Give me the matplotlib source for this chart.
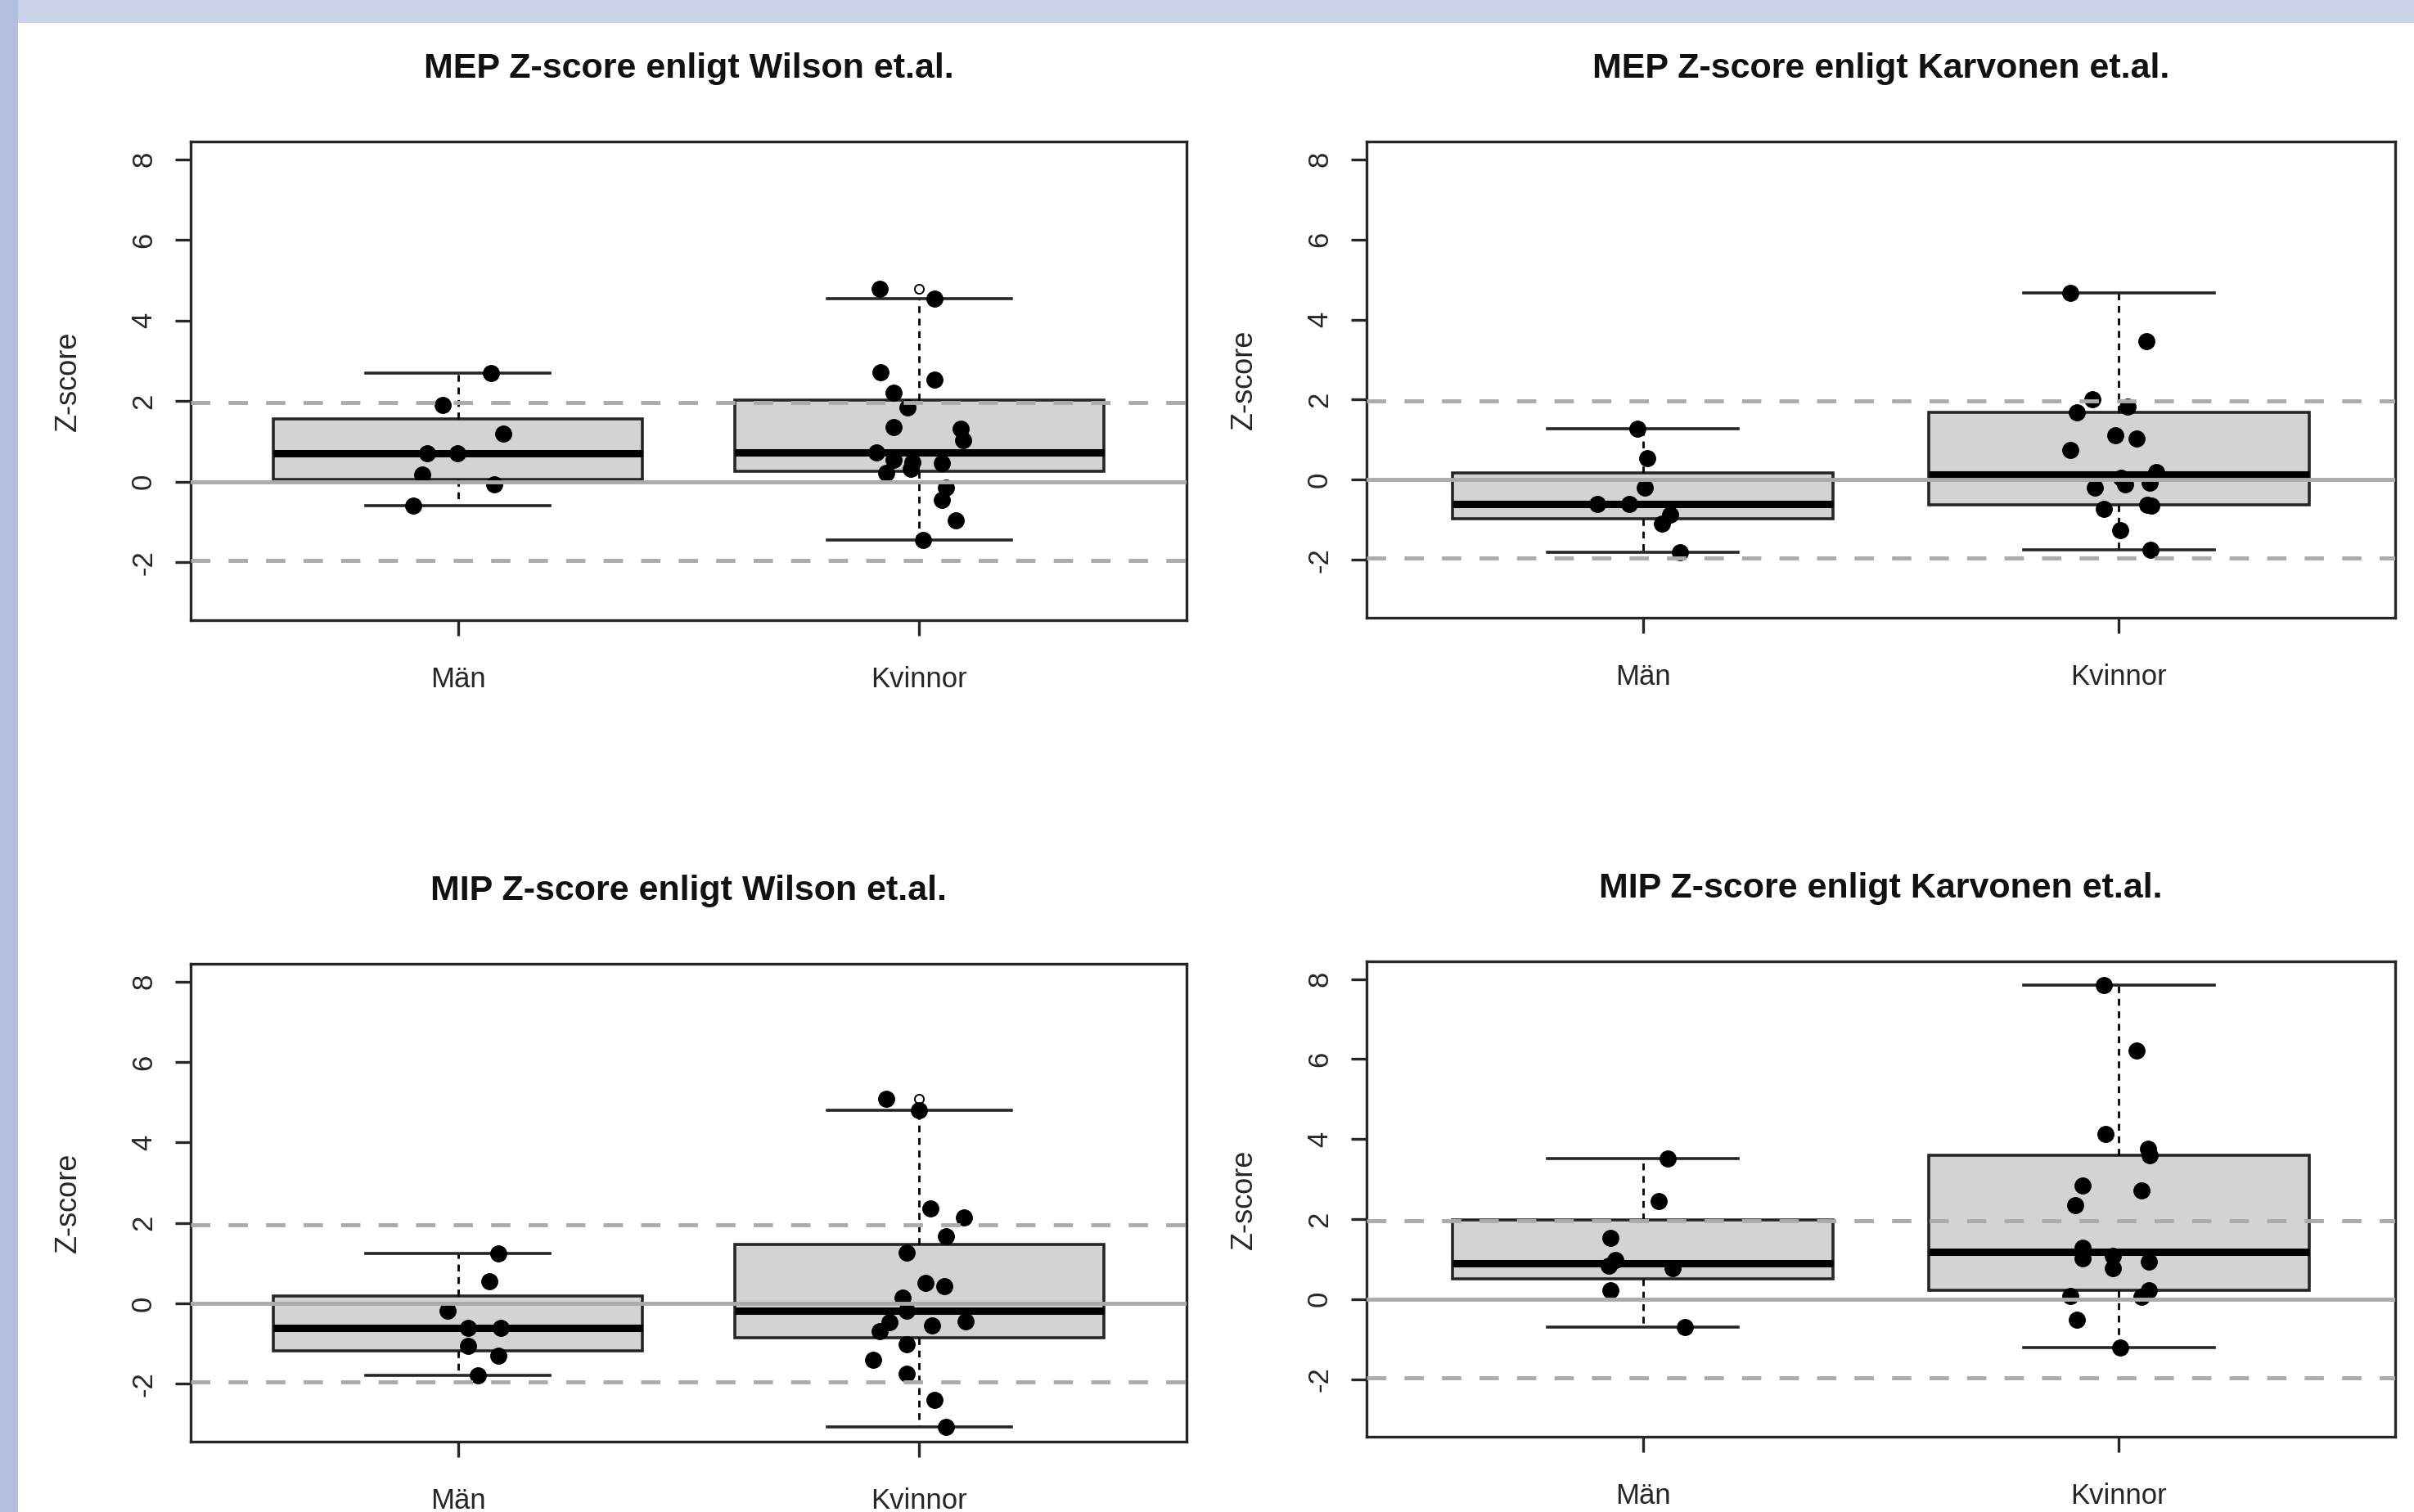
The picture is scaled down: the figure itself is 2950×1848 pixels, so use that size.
import numpy as np
import matplotlib
matplotlib.use('Agg')
import matplotlib.pyplot as plt
from matplotlib.patches import Rectangle

plt.rcParams['font.family'] = ['Liberation Sans', 'DejaVu Sans']
plt.rcParams['axes.unicode_minus'] = False
plt.rcParams['lines.scale_dashes'] = False

groups = ['Män', 'Kvinnor']

titles = ['MEP Z-score enligt Wilson et.al.',
          'MEP Z-score enligt Karvonen et.al.',
          'MIP Z-score enligt Wilson et.al.',
          'MIP Z-score enligt Karvonen et.al.']

# MEP, Wilson
mep_wilson_men = [2.70, 1.90, 1.20, 0.70, 0.70, 0.18, -0.06, -0.60]
mep_wilson_men_jit = [0.072, -0.033, 0.098, -0.067, -0.002, -0.078, 0.078, -0.098]
mep_wilson_women = [4.78, 4.54, 2.72, 2.54, 2.20, 1.83, 1.35, 1.31, 1.02, 0.73,
                    0.55, 0.48, 0.45, 0.32, 0.21, -0.16, -0.46, -0.97, -1.45]
mep_wilson_women_jit = [-0.086, 0.034, -0.083, 0.034, -0.056, -0.025, -0.056, 0.09, 0.095, -0.092,
                        -0.056, -0.015, 0.05, -0.018, -0.071, 0.059, 0.05, 0.08, 0.009]

# MEP, Karvonen
mep_karv_men = [1.28, 0.54, -0.19, -0.61, -0.61, -0.87, -1.09, -1.80]
mep_karv_men_jit = [-0.011, 0.009, 0.005, -0.096, -0.028, 0.057, 0.041, 0.078]
mep_karv_women = [4.66, 3.46, 2.02, 1.82, 1.69, 1.11, 1.04, 0.75, 0.20, 0.06,
                  -0.11, -0.19, -0.07, -0.73, -0.65, -0.62, -1.25, -1.74]
mep_karv_women_jit = [-0.103, 0.057, -0.056, 0.018, -0.088, -0.007, 0.037, -0.102, 0.079, 0.004,
                      0.013, -0.05, 0.064, -0.032, 0.068, 0.06, 0.002, 0.067]

# MIP, Wilson
mip_wilson_men = [1.24, 0.54, -0.19, -0.61, -0.61, -1.07, -1.31, -1.79]
mip_wilson_men_jit = [0.087, 0.068, -0.023, 0.022, 0.093, 0.022, 0.087, 0.043]
mip_wilson_women = [5.09, 4.80, 2.36, 2.14, 1.67, 1.26, 0.51, 0.42, 0.15, -0.19,
                    -0.46, -0.70, -0.56, -0.44, -1.02, -1.41, -1.75, -2.41, -3.07]
mip_wilson_women_jit = [-0.071, -0.001, 0.024, 0.098, 0.059, -0.027, 0.014, 0.055, -0.036, -0.027,
                        -0.065, -0.086, 0.028, 0.1, -0.027, -0.1, -0.027, 0.034, 0.059]

# MIP, Karvonen
mip_karv_men = [3.52, 2.45, 1.52, 0.97, 0.84, 0.77, 0.23, -0.71]
mip_karv_men_jit = [0.053, 0.034, -0.068, -0.057, -0.072, 0.063, -0.068, 0.089]
mip_karv_women = [7.85, 6.21, 4.12, 3.76, 3.59, 2.83, 2.71, 2.35, 1.28, 1.01,
                  1.08, 0.77, 0.94, 0.22, 0.05, 0.08, -0.52, -1.22]
mip_karv_women_jit = [-0.032, 0.037, -0.028, 0.061, 0.064, -0.077, 0.048, -0.092, -0.077, -0.077,
                      -0.013, -0.013, 0.062, 0.062, 0.048, -0.102, -0.088, 0.002]

panels = [
    (mep_wilson_men, mep_wilson_men_jit, mep_wilson_women, mep_wilson_women_jit),
    (mep_karv_men, mep_karv_men_jit, mep_karv_women, mep_karv_women_jit),
    (mip_wilson_men, mip_wilson_men_jit, mip_wilson_women, mip_wilson_women_jit),
    (mip_karv_men, mip_karv_men_jit, mip_karv_women, mip_karv_women_jit),
]

# axes boxes in pixels: left, right, top, bottom
boxes_px = [(233, 1450, 173, 758), (1670, 2927, 173, 755),
            (233, 1450, 1178, 1762), (1670, 2927, 1175, 1756)]

W, H = 2950, 1848


def fivenum(x):
    x = np.sort(np.asarray(x, dtype=float))
    n = len(x)
    n4 = np.floor((n + 3) / 2) / 2
    d = np.array([1, n4, (n + 1) / 2, n + 1 - n4, n]) - 1
    return 0.5 * (x[np.floor(d).astype(int)] + x[np.ceil(d).astype(int)])


def box_stats(x):
    # R style boxplot.stats: Tukey hinges, whiskers at 1.5 * hinge spread
    x = np.asarray(x, dtype=float)
    lo, q1, med, q3, hi = fivenum(x)
    iqr = q3 - q1
    inside = x[(x >= q1 - 1.5 * iqr) & (x <= q3 + 1.5 * iqr)]
    return dict(med=med, q1=q1, q3=q3, whislo=inside.min(), whishi=inside.max(),
                fliers=x[(x < q1 - 1.5 * iqr) | (x > q3 + 1.5 * iqr)])


fig = plt.figure(figsize=(W / 100, H / 100), dpi=100)
fig.patches.append(Rectangle((0, 1 - 28 / H), 1, 28 / H, transform=fig.transFigure,
                             facecolor='#cbd3e8', edgecolor='none'))
fig.patches.append(Rectangle((0, 0), 22 / W, 1, transform=fig.transFigure,
                             facecolor='#b4bfdf', edgecolor='none'))

dark = '#262626'
grey = '#ababab'

for (men, men_jit, women, women_jit), title, (l, r, t, b) in zip(panels, titles, boxes_px):
    ax = fig.add_axes([l / W, 1 - b / H, (r - l) / W, (b - t) / H])
    stats = [box_stats(men), box_stats(women)]
    ax.bxp(stats, positions=[1, 2], widths=0.8, capwidths=0.4, patch_artist=True,
           boxprops=dict(facecolor='#d3d3d3', edgecolor=dark, linewidth=2.6),
           medianprops=dict(color='black', linewidth=6.5, solid_capstyle='butt'),
           whiskerprops=dict(color='black', linewidth=2, linestyle=(0, (6, 5))),
           capprops=dict(color=dark, linewidth=2.6),
           flierprops=dict(marker='o', markerfacecolor='none', markeredgecolor='black',
                           markersize=8, markeredgewidth=1.4),
           zorder=2)

    ax.plot(1 + np.array(men_jit), men, 'o', color='black', ms=14, zorder=3)
    ax.plot(2 + np.array(women_jit), women, 'o', color='black', ms=14, zorder=3)

    ax.axhline(0, color=grey, lw=3.5, zorder=4)
    for yv in (1.96, -1.96):
        ax.axhline(yv, color=grey, lw=3.5, linestyle=(0, (17, 16)), zorder=4)

    ax.set_xlim(0.42, 2.58)
    ax.set_ylim(-3.44, 8.44)
    ax.set_xticks([1, 2])
    ax.set_xticklabels(groups)
    ax.set_yticks([-2, 0, 2, 4, 6, 8])
    ax.tick_params(axis='both', direction='out', length=13.5, width=2.4, color=dark,
                   labelsize=25, labelcolor=dark)
    ax.tick_params(axis='x', pad=27)
    ax.tick_params(axis='y', pad=16, labelrotation=90)
    for lab in ax.get_yticklabels():
        lab.set_va('center')
    for sp in ax.spines.values():
        sp.set_linewidth(2.4)
        sp.set_color(dark)
    ax.set_ylabel('Z-score', fontsize=26, color=dark, labelpad=42)
    ax.annotate(title, xy=(0.5, 1), xycoords='axes fraction', xytext=(0, 64),
                textcoords='offset points', ha='center', va='center',
                fontsize=31, fontweight='bold', color='#111111')

fig.savefig('out.png', dpi=100)
